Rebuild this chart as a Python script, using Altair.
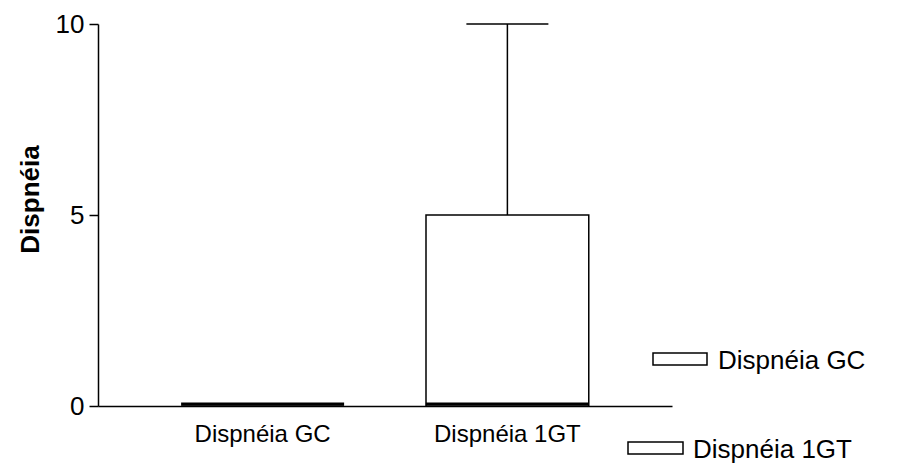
import altair as alt
import pandas as pd

categories = ["Dispnéia GC", "Dispnéia 1GT"]
mins = [0, 0]
q1s = [0, 0]
medians = [0, 0]
q3s = [0, 5]
maxs = [0, 10]

df = pd.DataFrame({"cat": categories, "min": mins, "q1": q1s, "median": medians,
                   "q3": q3s, "max": maxs})

FONT = "Liberation Sans"

xenc = alt.X("cat:N", sort=categories, title=None,
             scale=alt.Scale(paddingInner=0.335, paddingOuter=0.34),
             axis=alt.Axis(labelAngle=0, labelFontSize=24, labelFont=FONT, labelColor="black",
                           labelPadding=16, ticks=False, domainColor="black", domainWidth=1.5,
                           labelBaseline="top"))
yscale = alt.Scale(domain=[0, 10], nice=False, zero=True)
yaxis = alt.Axis(values=[0, 5, 10], title="Dispnéia", titleFontSize=26, titleFont=FONT,
                 titleFontWeight="bold", titleColor="black", titleX=-68, titleY=175,
                 titleAngle=-90, titleAlign="center", titleBaseline="middle",
                 labelFontSize=26, labelFont=FONT, labelColor="black", labelPadding=5,
                 tickSize=9, tickColor="black", tickWidth=1.5, domainColor="black",
                 domainWidth=1.5, grid=False)

base = alt.Chart(df)

box = base.mark_bar(fill="white", stroke="black", strokeWidth=1.5).encode(
    x=xenc,
    y=alt.Y("q1:Q", scale=yscale, axis=yaxis),
    y2="q3:Q",
)

whisker = base.transform_filter("datum.max > datum.q3").mark_rule(
    color="black", strokeWidth=1.5).encode(
    x=alt.X("cat:N", sort=categories),
    y=alt.Y("q3:Q", scale=yscale),
    y2="max:Q",
)

cap = base.transform_filter("datum.max > datum.q3").mark_tick(
    color="black", size=82, thickness=1.5, opacity=1).encode(
    x=alt.X("cat:N", sort=categories),
    y=alt.Y("max:Q", scale=yscale),
)

median = base.mark_tick(color="black", size=163, thickness=3, yOffset=-2, opacity=1).encode(
    x=alt.X("cat:N", sort=categories),
    y=alt.Y("median:Q", scale=yscale),
)

# manual legend
leg_gc_rect = alt.Chart(pd.DataFrame({"label": [categories[0]]})).mark_rect(
    fill="white", stroke="black", strokeWidth=1.5).encode(
    x=alt.value(555), x2=alt.value(609), y=alt.value(329), y2=alt.value(341))
leg_gc_text = alt.Chart(pd.DataFrame({"label": [categories[0]]})).mark_text(
    align="left", baseline="middle", fontSize=26, font=FONT, color="black").encode(
    x=alt.value(620), y=alt.value(337), text="label:N")
leg_gt_rect = alt.Chart(pd.DataFrame({"label": [categories[1]]})).mark_rect(
    fill="white", stroke="black", strokeWidth=1.5).encode(
    x=alt.value(530), x2=alt.value(585), y=alt.value(418), y2=alt.value(430))
leg_gt_text = alt.Chart(pd.DataFrame({"label": [categories[1]]})).mark_text(
    align="left", baseline="middle", fontSize=26, font=FONT, color="black").encode(
    x=alt.value(595), y=alt.value(426), text="label:N")

chart = alt.layer(box, whisker, cap, median, leg_gc_rect, leg_gc_text,
                  leg_gt_rect, leg_gt_text).properties(
    width=574, height=382,
    autosize=alt.AutoSizeParams(type="none"),
    padding={"left": 90, "top": 16, "right": 219, "bottom": 60},
    background="white",
).configure_view(stroke=None)

chart.save("out.html", embed_options={"renderer": "svg", "actions": False})
